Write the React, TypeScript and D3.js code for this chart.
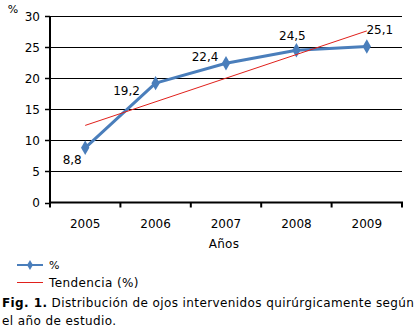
import React from "react";
import * as d3 from "d3";

const years = ["2005", "2006", "2007", "2008", "2009"];
const values = [8.8, 19.2, 22.4, 24.5, 25.1];
const valueLabels = ["8,8", "19,2", "22,4", "24,5", "25,1"];
const trendYears = ["2005", "2009"];
const trendValues = [12.4, 27.6];
const yTicks = [0, 5, 10, 15, 20, 25, 30];

const W = 420;
const H = 332;
const FONT = "'DejaVu Sans', Verdana, sans-serif";
const BLUE = "#4a7ebb";
const RED = "#e0201b";

// label offsets (dx, dy) relative to the point
const labelOffsets: [number, number][] = [
  [-13, 16],
  [-29, 12],
  [-21, -2],
  [-4, -10],
  [13, -12],
];

export default function App() {
  const x = d3.scaleBand<string>().domain(years).range([50, 402]);
  const y = d3.scaleLinear().domain([0, 30]).range([202.5, 16]);
  const cx = (d: string) => (x(d) ?? 0) + x.bandwidth() / 2;

  const line = d3
    .line<number>()
    .x((_, i) => cx(years[i]))
    .y((d) => y(d));
  const trendLine = d3
    .line<number>()
    .x((_, i) => cx(trendYears[i]))
    .y((d) => y(d));

  const diamond = d3.symbol().type(d3.symbolDiamond).size(60)() as string;
  const bounds = x.range();
  const tickXs = years.map((d) => x(d) as number).concat([bounds[1]]);

  return (
    <svg
      width={W}
      height={H}
      style={{ position: "absolute", left: 0, top: 0, background: "#fff" }}
      fontFamily={FONT}
    >
      {/* gridlines */}
      {yTicks.filter((t) => t > 0).map((t) => (
        <line key={t} x1={50} x2={402} y1={Math.round(y(t)) + 0.5} y2={Math.round(y(t)) + 0.5} stroke="#000" strokeWidth={1} />
      ))}
      {/* y axis */}
      <line x1={50} x2={50} y1={y(30)} y2={y(0) + 1} stroke="#000" strokeWidth={2} />
      {yTicks.map((t) => (
        <g key={t}>
          <line x1={45} x2={50} y1={Math.round(y(t)) + 0.5} y2={Math.round(y(t)) + 0.5} stroke="#000" strokeWidth={1.5} />
          <text x={40} y={y(t) + 4.5} textAnchor="end" fontSize={12} fill="#000">
            {t}
          </text>
        </g>
      ))}
      {/* x axis */}
      <line x1={49} x2={403} y1={y(0)} y2={y(0)} stroke="#000" strokeWidth={2} />
      {tickXs.map((tx, i) => (
        <line key={i} x1={tx} x2={tx} y1={y(0)} y2={y(0) + 5} stroke="#000" strokeWidth={2} />
      ))}
      {years.map((d) => (
        <text key={d} x={cx(d)} y={228} textAnchor="middle" fontSize={12} fill="#000">
          {d}
        </text>
      ))}
      <text x={224} y={248} textAnchor="middle" fontSize={12} letterSpacing={0.3} fill="#000">
        Años
      </text>
      <text x={13} y={13} textAnchor="middle" fontSize={11} fill="#000">
        %
      </text>

      {/* series */}
      <path d={line(values) ?? ""} fill="none" stroke={BLUE} strokeWidth={3} strokeLinejoin="round" />
      {values.map((v, i) => (
        <path key={i} d={diamond} transform={`translate(${cx(years[i])},${y(v)})`} fill={BLUE} />
      ))}
      <path d={trendLine(trendValues) ?? ""} fill="none" stroke={RED} strokeWidth={1} />

      {values.map((v, i) => (
        <text
          key={i}
          x={cx(years[i]) + labelOffsets[i][0]}
          y={y(v) + labelOffsets[i][1]}
          textAnchor="middle"
          fontSize={12}
          fill="#000"
        >
          {valueLabels[i]}
        </text>
      ))}

      {/* legend */}
      <line x1={17} x2={43} y1={265} y2={265} stroke={BLUE} strokeWidth={2} />
      <path d={d3.symbol().type(d3.symbolDiamond).size(30)() as string} transform="translate(30,265)" fill={BLUE} />
      <text x={49} y={269} fontSize={11} fill="#000">
        %
      </text>
      <line x1={17} x2={43} y1={282.5} y2={282.5} stroke={RED} strokeWidth={1} />
      <text x={49} y={287} fontSize={12} letterSpacing={0.4} fill="#000">
        Tendencia (%)
      </text>

      {/* caption */}
      <text x={2} y={307} fontSize={12} letterSpacing={0.4} fill="#000">
        <tspan fontWeight="bold">Fig. 1.</tspan>
        <tspan> Distribución de ojos intervenidos quirúrgicamente según</tspan>
      </text>
      <text x={2} y={325} fontSize={12} letterSpacing={0.4} fill="#000">
        el año de estudio.
      </text>
    </svg>
  );
}
